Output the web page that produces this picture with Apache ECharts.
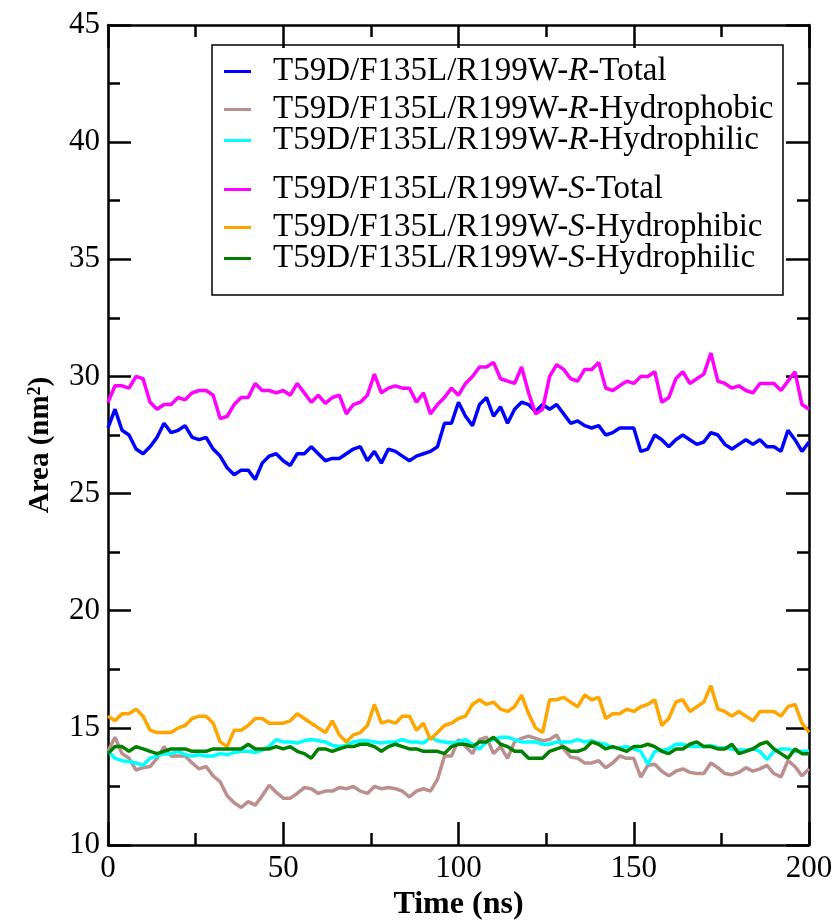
<!DOCTYPE html>
<html>
<head>
<meta charset="utf-8">
<script src="https://cdn.jsdelivr.net/npm/echarts@6/dist/echarts.min.js"></script>
<style>
  html, body { margin: 0; padding: 0; background: #fff; }
  #chart { width: 837px; height: 920px; }
</style>
</head>
<body>
<div id="chart"></div>
<script>
// Buried surface area over a 200 ns trajectory, sampled every 2 ns.
const timeStepNs = 2;

const seriesNames = [
  'T59D/F135L/R199W-R-Total',
  'T59D/F135L/R199W-R-Hydrophobic',
  'T59D/F135L/R199W-R-Hydrophilic',
  'T59D/F135L/R199W-S-Total',
  'T59D/F135L/R199W-S-Hydrophibic',
  'T59D/F135L/R199W-S-Hydrophilic'
];

const rTotal = [
  27.8, 28.6, 27.7, 27.5, 26.9, 26.7, 27.0, 27.4, 28.0, 27.6,
  27.7, 27.9, 27.4, 27.3, 27.4, 26.9, 26.6, 26.1, 25.8, 26.0,
  26.0, 25.6, 26.3, 26.6, 26.7, 26.4, 26.2, 26.7, 26.7, 27.0,
  26.7, 26.4, 26.5, 26.5, 26.7, 26.9, 27.0, 26.4, 26.8, 26.3,
  26.9, 26.8, 26.6, 26.4, 26.6, 26.7, 26.8, 27.0, 28.0, 28.0,
  28.9, 28.3, 27.9, 28.8, 29.1, 28.3, 28.7, 28.0, 28.6, 28.9,
  28.8, 28.5, 28.8, 28.6, 28.8, 28.4, 28.0, 28.1, 27.9, 27.8,
  27.9, 27.5, 27.6, 27.8, 27.8, 27.8, 26.8, 26.9, 27.5, 27.3,
  27.0, 27.3, 27.5, 27.3, 27.1, 27.2, 27.6, 27.5, 27.1, 26.9,
  27.1, 27.3, 27.1, 27.3, 27.0, 27.0, 26.8, 27.7, 27.3, 26.8,
  27.2
];

const rHydrophobic = [
  14.0, 14.6, 13.9, 13.7, 13.2, 13.3, 13.35, 13.7, 14.2, 13.8,
  13.8, 13.8, 13.5, 13.25, 13.35, 12.95, 12.7, 12.1, 11.8, 11.6,
  11.85, 11.7, 12.1, 12.55, 12.25, 12.0, 12.0, 12.2, 12.45, 12.4,
  12.2, 12.3, 12.3, 12.45, 12.4, 12.5, 12.3, 12.2, 12.5, 12.4,
  12.45, 12.4, 12.3, 12.05, 12.3, 12.4, 12.3, 12.8, 13.8, 13.8,
  14.5, 14.2, 13.9, 14.5, 14.6, 13.9, 14.2, 13.7, 14.4, 14.55,
  14.65, 14.55, 14.45, 14.5, 14.7, 14.1, 13.75, 13.7, 13.5, 13.5,
  13.6, 13.3, 13.5, 13.8, 13.7, 13.7, 12.9, 13.4, 13.45, 13.15,
  12.95, 13.15, 13.25, 13.1, 13.05, 13.05, 13.5, 13.3, 13.05, 13.0,
  13.1, 13.3, 13.15, 13.25, 13.4, 13.05, 12.9, 13.6, 13.35, 12.95,
  13.25
];

const rHydrophilic = [
  14.0, 13.7, 13.6, 13.55, 13.5, 13.4, 13.7, 13.8, 13.9, 13.9,
  14.0, 13.85, 13.8, 13.85, 13.8, 13.8, 13.9, 13.85, 13.95, 14.0,
  14.0, 13.95, 14.05, 14.2, 14.5, 14.4, 14.4, 14.35, 14.45, 14.5,
  14.45, 14.4, 14.25, 14.2, 14.25, 14.4, 14.45, 14.45, 14.4, 14.35,
  14.4, 14.4, 14.5, 14.4, 14.4, 14.35, 14.6, 14.45, 14.4, 14.35,
  14.4, 14.5, 14.3, 14.1, 14.4, 14.5, 14.6, 14.6, 14.5, 14.4,
  14.4, 14.4, 14.3, 14.3, 14.4, 14.4, 14.4, 14.5, 14.4, 14.45,
  14.35, 14.3, 14.15, 14.15, 14.2, 14.1, 14.0, 13.45, 14.0, 14.05,
  14.1, 14.3, 14.3, 14.2, 14.2, 14.2, 14.25, 14.15, 14.15, 14.1,
  14.05, 14.05, 14.1, 14.0, 13.65, 14.0, 14.1, 14.1, 14.0, 14.0,
  14.0
];

const sTotal = [
  28.9, 29.6, 29.6, 29.5, 30.0, 29.9, 28.9, 28.6, 28.8, 28.8,
  29.1, 29.0, 29.3, 29.4, 29.4, 29.2, 28.2, 28.3, 28.8, 29.1,
  29.1, 29.7, 29.4, 29.4, 29.3, 29.4, 29.2, 29.7, 29.3, 28.9,
  29.2, 28.85, 29.1, 29.2, 28.4, 28.8, 28.9, 29.2, 30.1, 29.3,
  29.5, 29.6, 29.5, 29.5, 28.9, 29.3, 28.4, 28.8, 29.1, 29.5,
  29.2, 29.7, 30.0, 30.4, 30.4, 30.6, 29.9, 29.8, 29.7, 30.4,
  29.3, 28.4, 28.6, 30.0, 30.5, 30.3, 29.9, 29.8, 30.3, 30.3,
  30.6, 29.5, 29.4, 29.6, 29.8, 29.7, 30.0, 30.0, 30.2, 28.9,
  29.1, 29.9, 30.2, 29.7, 29.9, 30.1, 31.0, 29.8, 29.7, 29.5,
  29.6, 29.4, 29.3, 29.7, 29.7, 29.7, 29.4, 29.8, 30.2, 28.8,
  28.6
];

const sHydrophobic = [
  15.5, 15.3, 15.6, 15.6, 15.8, 15.5, 14.9, 14.8, 14.8, 14.8,
  15.0, 15.1, 15.4, 15.5, 15.5, 15.2, 14.4, 14.2, 14.9, 14.9,
  15.1, 15.4, 15.4, 15.2, 15.2, 15.2, 15.3, 15.6, 15.4, 15.2,
  15.0, 14.8, 15.3, 14.7, 14.4, 14.7, 14.8, 15.1, 16.0, 15.2,
  15.3, 15.2, 15.5, 15.5, 14.9, 15.2, 14.5, 14.8, 15.1, 15.2,
  15.4, 15.5, 16.0, 16.2, 16.0, 16.1, 15.8, 15.7, 15.9, 16.4,
  15.6, 15.0, 14.8, 16.2, 16.2, 16.3, 16.1, 15.9, 16.4, 16.2,
  16.3, 15.4, 15.6, 15.6, 15.8, 15.7, 15.9, 16.0, 16.2, 15.1,
  15.4, 16.1, 16.2, 15.7, 15.9, 16.1, 16.8, 15.8, 15.7, 15.5,
  15.7, 15.5, 15.3, 15.7, 15.7, 15.7, 15.5, 15.9, 16.0, 15.2,
  14.8
];

const sHydrophilic = [
  13.9, 14.2, 14.2, 14.0, 14.2, 14.1, 14.0, 13.9, 14.0, 14.1,
  14.1, 14.1, 14.0, 14.0, 14.0, 14.1, 14.1, 14.1, 14.1, 14.1,
  14.3, 14.1, 14.1, 14.1, 14.2, 14.1, 14.2, 14.0, 13.9, 13.7,
  14.1, 14.1, 14.0, 14.1, 14.2, 14.2, 14.3, 14.3, 14.2, 14.0,
  14.2, 14.3, 14.2, 14.1, 14.1, 14.0, 14.0, 14.0, 13.9, 14.2,
  14.3, 14.3, 14.2, 14.4, 14.4, 14.6, 14.3, 14.2, 14.0, 14.0,
  13.7, 13.7, 13.7, 14.0, 14.1, 14.2, 14.0, 14.0, 14.1, 14.4,
  14.3, 14.1, 14.2, 14.1, 14.0, 14.2, 14.2, 14.3, 14.2, 14.0,
  13.9, 14.1, 14.1, 14.3, 14.4, 14.2, 14.2, 14.1, 14.1, 14.3,
  13.9, 14.0, 14.1, 14.3, 14.4, 14.1, 13.9, 13.7, 14.1, 13.9,
  13.9
];

const seriesValues = [rTotal, rHydrophobic, rHydrophilic, sTotal, sHydrophobic, sHydrophilic];
const seriesColors = ['#0000ff', '#bc8f8f', '#00ffff', '#ff00ff', '#ffa500', '#008000'];

const xTicks = { min: 0, max: 200, interval: 50 };
const yTicks = { min: 10, max: 45, interval: 5 };

const FONT = '"Liberation Serif", "Times New Roman", Times, serif';
const times = rTotal.map((_, i) => i * timeStepNs);

// frame axes: ticks point inward on all four sides
const frameAxis = {
  axisLine: { show: true, onZero: false, lineStyle: { color: '#000', width: 2.5 } },
  axisTick: { show: true, inside: true, length: 23, lineStyle: { color: '#000', width: 2.5 } },
  minorTick: { show: true, splitNumber: 2, length: 12, lineStyle: { color: '#000', width: 2.5 } },
  splitLine: { show: false },
  minorSplitLine: { show: false }
};
const tickLabel = { fontFamily: FONT, fontSize: 31, color: '#000' };

// legend rows (vertical centres) and the box around them
const legendRowsY = [71, 109, 140, 189, 227, 258];
const legends = seriesNames.map((name, i) => ({
  data: [name],
  left: 224,
  top: legendRowsY[i] - 16,
  padding: 0,
  icon: 'rect',
  itemWidth: 27,
  itemHeight: 3,
  selectedMode: false,
  formatter: n => n.replace(/-([RS])-/, '-{i|$1}-'),
  textStyle: {
    fontFamily: FONT, fontSize: 33, color: '#000',
    padding: [0, 0, 0, 17],
    rich: { i: { fontFamily: FONT, fontSize: 33, fontStyle: 'italic', color: '#000' } }
  }
}));

const chart = echarts.init(document.getElementById('chart'), null, { renderer: 'canvas' });
chart.setOption({
  animation: false,
  backgroundColor: '#fff',
  grid: { left: 108, right: 28, top: 25, bottom: 75, containLabel: false, outerBoundsMode: 'none' },
  legend: legends,
  graphic: [{
    type: 'rect', z: 3,
    shape: { x: 212, y: 45, width: 571, height: 250 },
    style: { fill: 'none', stroke: '#000', lineWidth: 1.5 }
  }],
  xAxis: [
    Object.assign({
      type: 'value', position: 'bottom', ...xTicks,
      axisLabel: Object.assign({ margin: 8 }, tickLabel),
      name: 'Time (ns)', nameLocation: 'middle', nameGap: 42,
      nameTextStyle: { fontFamily: FONT, fontSize: 32, fontWeight: 'bold', color: '#000' }
    }, frameAxis),
    Object.assign({
      type: 'value', position: 'top', ...xTicks, axisLabel: { show: false }
    }, frameAxis)
  ],
  yAxis: [
    Object.assign({
      type: 'value', position: 'left', ...yTicks,
      axisLabel: Object.assign({ margin: 8 }, tickLabel),
      name: '{t|Area (nm}{s|2}{t|)}', nameLocation: 'middle', nameGap: 53, nameRotate: 90,
      nameTextStyle: {
        padding: [0, 20, 0, 0],
        rich: {
          t: { fontFamily: FONT, fontSize: 29, fontWeight: 'bold', color: '#000' },
          s: { fontFamily: FONT, fontSize: 18, fontWeight: 'bold', color: '#000', verticalAlign: 'top' }
        }
      }
    }, frameAxis),
    Object.assign({
      type: 'value', position: 'right', ...yTicks, axisLabel: { show: false }
    }, frameAxis)
  ],
  series: seriesNames.map((name, i) => ({
    name,
    type: 'line',
    xAxisIndex: 0,
    yAxisIndex: 0,
    showSymbol: false,
    symbol: 'none',
    color: seriesColors[i],
    lineStyle: { color: seriesColors[i], width: 3.5 },
    data: seriesValues[i].map((v, k) => [times[k], v])
  }))
});
</script>
</body>
</html>
